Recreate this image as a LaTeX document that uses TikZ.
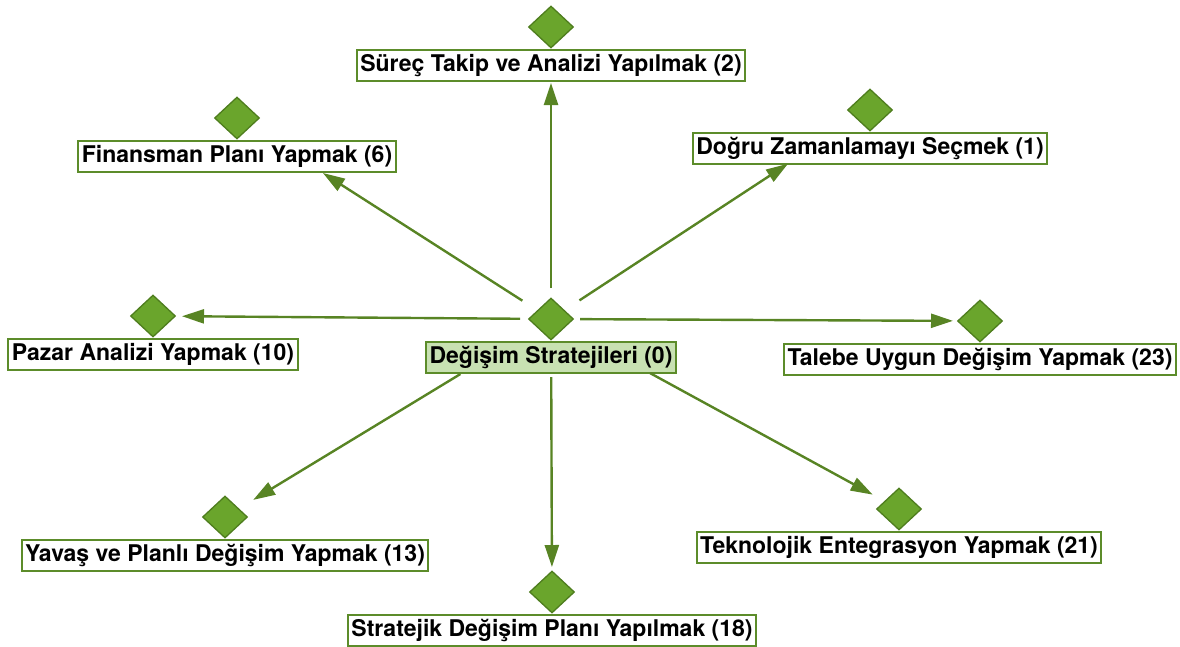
\documentclass[tikz,border=0pt]{standalone}
\usepackage{fontspec}
\setmainfont{TeX Gyre Heros}
\usetikzlibrary{shapes.geometric,arrows.meta}
\definecolor{dfill}{RGB}{106,165,44}
\definecolor{dline}{RGB}{78,125,30}
\definecolor{bline}{RGB}{92,140,42}
\definecolor{cfill}{RGB}{200,225,178}
\definecolor{aline}{RGB}{88,132,36}
\begin{document}
\begin{tikzpicture}[x=1pt,y=-1pt,
 dmd/.style={diamond,draw=dline,fill=dfill,line width=1.3pt,inner sep=0pt,minimum width=45pt,minimum height=42pt},
 lbl/.style={rectangle,draw=bline,fill=white,line width=2pt,inner xsep=3.5pt,inner ysep=0pt,minimum height=31pt,font=\fontsize{23}{26}\selectfont\bfseries,text=black,anchor=north},
 ctr/.style={lbl,fill=cfill},
 arr/.style={draw=aline,line width=2.4pt,-{Triangle[length=22pt,width=14pt]}}]
\useasboundingbox (0,0) rectangle (1180,646);
% center
\node[dmd] (d0) at (551,319) {};
\node[ctr] (b0) at (d0.south) {Değişim Stratejileri (0)};
% outer nodes
\node[dmd] (d2) at (551,27) {};
\node[lbl] (b2) at (d2.south) {Süreç Takip ve Analizi Yapılmak (2)};
\node[dmd] (d6) at (237,118) {};
\node[lbl] (b6) at (d6.south) {Finansman Planı Yapmak (6)};
\node[dmd] (d1) at (870,110) {};
\node[lbl] (b1) at (d1.south) {Doğru Zamanlamayı Seçmek (1)};
\node[dmd] (d10) at (153,316) {};
\node[lbl] (b10) at (d10.south) {Pazar Analizi Yapmak (10)};
\node[dmd] (d23) at (980,321) {};
\node[lbl] (b23) at (d23.south) {Talebe Uygun Değişim Yapmak (23)};
\node[dmd] (d13) at (225,517) {};
\node[lbl] (b13) at (d13.south) {Yavaş ve Planlı Değişim Yapmak (13)};
\node[dmd] (d21) at (899,509) {};
\node[lbl] (b21) at (d21.south) {Teknolojik Entegrasyon Yapmak (21)};
\node[dmd] (d18) at (552,592) {};
\node[lbl] (b18) at (d18.south) {Stratejik Değişim Planı Yapılmak (18)};
% connectors
\draw[arr,shorten <=31pt,shorten >=56pt] (d0.center) -- (d2.center);
\draw[arr,shorten <=34pt,shorten >=102pt] (d0.center) -- (d6.center);
\draw[arr,shorten <=34pt,shorten >=98pt] (d0.center) -- (d1.center);
\draw[arr,shorten <=31pt,shorten >=29pt] (d0.center) -- (d10.center);
\draw[arr,shorten <=29pt,shorten >=27pt] (d0.center) -- (d23.center);
\draw[arr,shorten <=106pt,shorten >=33pt] (d0.center) -- (d13.center);
\draw[arr,shorten <=113pt,shorten >=30pt] (d0.center) -- (d21.center);
\draw[arr,shorten <=58pt,shorten >=25pt] (d0.center) -- (d18.center);
\end{tikzpicture}
\end{document}
